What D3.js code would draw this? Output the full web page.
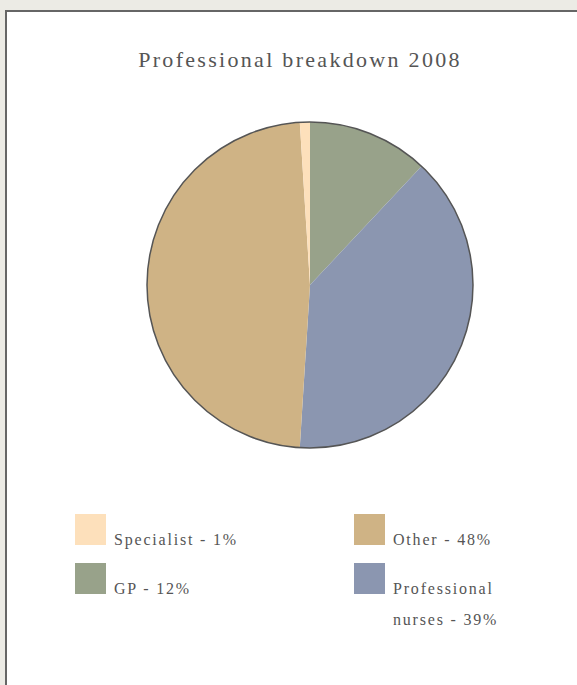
<!DOCTYPE html>
<html>
<head>
<meta charset="utf-8">
<script src="https://cdn.jsdelivr.net/npm/d3@7"></script>
<style>
  html, body { margin:0; padding:0; background:#ecebe5; }
  svg { display:block; }
  text { font-family: "Liberation Serif", "DejaVu Serif", serif; fill:#555; }
</style>
</head>
<body>
<svg id="chart" width="577" height="685"></svg>
<script>
// --- data ------------------------------------------------------------------
const categories = ['GP', 'Professional nurses', 'Other', 'Specialist'];
const values     = [12, 39, 48, 1];
const colors     = ['#98a28a', '#8b96b0', '#cfb385', '#fde0bb'];
// legend order (two columns)
const legendOrder = ['Specialist', 'GP', 'Other', 'Professional nurses'];

(function(){
  const svg = d3.select('#chart');
  const W = 577, H = 685;

  // panel
  svg.append('rect').attr('x', 6).attr('y', 11).attr('width', W).attr('height', H)
    .attr('fill', '#fff').attr('stroke', '#666').attr('stroke-width', 2);

  svg.append('text')
    .attr('x', 300).attr('y', 67)
    .attr('text-anchor', 'middle')
    .style('font-size', '22px').style('letter-spacing', '2.3px')
    .text('Professional breakdown 2008');

  const color = d3.scaleOrdinal().domain(categories).range(colors);
  const data = categories.map((c, i) => ({ name: c, value: values[i] }));

  const cx = 310, cy = 285, R = 163;
  const pie = d3.pie().value(d => d.value).sort(null);
  const arc = d3.arc().innerRadius(0).outerRadius(R);

  const g = svg.append('g').attr('transform', `translate(${cx},${cy})`);
  g.selectAll('path')
    .data(pie(data))
    .join('path')
    .attr('d', arc)
    .attr('fill', d => color(d.data.name));
  g.append('circle').attr('r', R).attr('fill', 'none')
    .attr('stroke', '#555').attr('stroke-width', 1.5);

  // --- legend ----------------------------------------------------------------
  const colX = [75, 354], rowY = [514, 563];
  const byName = new Map(data.map(d => [d.name, d]));
  legendOrder.forEach((name, i) => {
    const col = Math.floor(i / 2), row = i % 2;
    const x = colX[col], y = rowY[row];
    const d = byName.get(name);
    svg.append('rect').attr('x', x).attr('y', y).attr('width', 31).attr('height', 31)
      .attr('fill', color(name));
    const t = svg.append('text').attr('x', x + 39).attr('y', y + 31)
      .style('font-size', '16px').style('letter-spacing', '1.8px');
    const label = `${name} - ${d.value}%`;
    const parts = (name === 'Professional nurses') ? ['Professional', `nurses - ${d.value}%`] : [label];
    parts.forEach((p, k) => {
      t.append('tspan').attr('x', x + 39).attr('dy', k === 0 ? 0 : 31).text(p);
    });
  });
})();
</script>
</body>
</html>
